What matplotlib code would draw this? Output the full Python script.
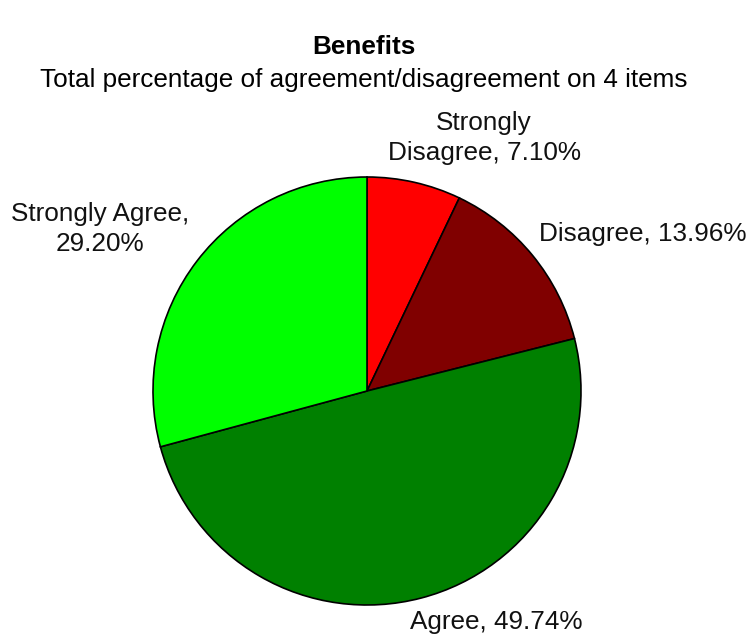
import matplotlib.pyplot as plt

# Data
labels = ["Strongly Disagree", "Disagree", "Agree", "Strongly Agree"]
values = [7.10, 13.96, 49.74, 29.20]
colors = ["#ff0000", "#800000", "#008000", "#00ff00"]
label_text = ["Strongly\nDisagree, 7.10%", "Disagree, 13.96%",
              "Agree, 49.74%", "Strongly Agree,\n29.20%"]

plt.rcParams['font.family'] = ['Liberation Sans', 'DejaVu Sans']

W, H = 749, 641
fig = plt.figure(figsize=(W / 100, H / 100), dpi=100)
ax = fig.add_axes([0, 0, 1, 1])

# pie, clockwise from 12 o'clock (pixel units)
cx, cy, r = 367, H - 391, 214
ax.pie(values, colors=colors, startangle=90, counterclock=False,
       center=(cx, cy), radius=r, frame=True,
       wedgeprops=dict(edgecolor='black', linewidth=1.2))
ax.set_xlim(0, W)
ax.set_ylim(0, H)
ax.axis('off')

fs = 18.8
# data labels (pixel positions)
label_pos = [(484, H - 138), (643, H - 234), (496, H - 622), (100, H - 229)]
for txt, (x, y) in zip(label_text, label_pos):
    ax.text(x, y, txt, ha='center', va='center', multialignment='center',
            fontsize=fs, linespacing=1.35, color='#111111')

# titles
ax.text(W / 2 - 11, H - 47, "Benefits", ha='center', va='center',
        fontsize=fs, fontweight='bold')
ax.text(W / 2 - 11, H - 80, "Total percentage of agreement/disagreement on 4 items",
        ha='center', va='center', fontsize=fs)

fig.savefig("out.png", dpi=100)
